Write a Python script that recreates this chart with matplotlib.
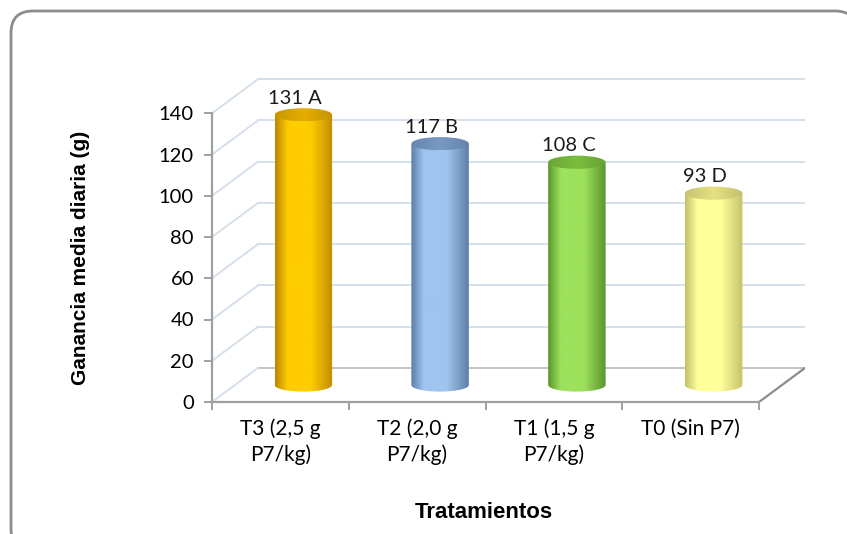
import numpy as np
import matplotlib
matplotlib.use("Agg")
import matplotlib.pyplot as plt
from matplotlib.patches import Ellipse, FancyBboxPatch, PathPatch
from matplotlib.path import Path
from matplotlib.colors import LinearSegmentedColormap, to_rgb

# Datos: ganancia media diaria por tratamiento
tratamientos = ["T3 (2,5 g\nP7/kg)", "T2 (2,0 g\nP7/kg)", "T1 (1,5 g\nP7/kg)", "T0 (Sin P7)"]
ganancia = [131, 117, 108, 93]
letras = ["A", "B", "C", "D"]
y_ticks = [0, 20, 40, 60, 80, 100, 120, 140]

# colores del cilindro: borde oscuro, brillo central, borde oscuro, tapa
colores = [
    ("#B98600", "#FFCC00", "#C08C00", "#D9A400"),
    ("#5A7BA3", "#9FC5F0", "#5F7EA6", "#7091BA"),
    ("#5A962A", "#9DE25C", "#5A952C", "#74B43A"),
    ("#C4C066", "#FFFF9C", "#C6C26A", "#D8D47A"),
]

TICK_FONT = "Lato"
GRID_COLOR = "#D5DFEC"
AXIS_COLOR = "#A0A0A0"

DX = 0.336    # desplazamiento de profundidad (unidades de categoria)
DY = 16.5     # desplazamiento de profundidad (unidades de eje y)
W = 0.42      # ancho del cilindro
EH = 6.4      # alto de la elipse

fig = plt.figure(figsize=(8.47, 5.34), dpi=100)

# marco redondeado del grafico
bg = fig.add_axes([0, 0, 1, 1])
bg.set_xlim(0, 847)
bg.set_ylim(534, 0)
bg.axis("off")
bg.add_patch(FancyBboxPatch((11, 11), 846, 540, boxstyle="round,pad=0,rounding_size=22",
                            facecolor="white", edgecolor="#8C8C8C", linewidth=2))

ax = fig.add_axes([212 / 847, 132 / 534, 593 / 847, 330 / 534])
ax.patch.set_alpha(0)
n = len(ganancia)
x_left = -0.5
x_right = n - 0.5

# pared trasera y pared lateral
for t in y_ticks:
    c = "#C4C4C4" if t == 0 else GRID_COLOR
    ax.plot([x_left + DX, x_right + DX], [t + DY, t + DY], color=c, lw=1.4, zorder=1)
    ax.plot([x_left, x_left + DX], [t, t + DY], color=GRID_COLOR, lw=1.4, zorder=1)

# borde derecho del piso
ax.plot([x_right, x_right + DX], [0, DY], color="#8C8C8C", lw=1.6, zorder=1)

# cilindros
for i, (v, let) in enumerate(zip(ganancia, letras)):
    edge_l, mid, edge_r, top_c = colores[i]
    cx = i + DX / 2
    base = DY / 2
    top = v + DY / 2
    x0, x1 = cx - W / 2, cx + W / 2

    th = np.linspace(0, np.pi, 40)
    bottom_x = cx + (W / 2) * np.cos(th)
    bottom_y = base - (EH / 2) * np.sin(th)
    verts = [(x0, top), (x1, top)] + list(zip(bottom_x, bottom_y)) + [(x0, top)]
    codes = [Path.MOVETO] + [Path.LINETO] * (len(verts) - 2) + [Path.CLOSEPOLY]
    body = PathPatch(Path(verts, codes), facecolor="none", edgecolor="none")
    ax.add_patch(body)

    cmap = LinearSegmentedColormap.from_list(
        f"cil{i}", [(0, edge_l), (0.22, mid), (0.45, mid), (0.62, mid), (1, edge_r)])
    grad = np.linspace(0, 1, 256).reshape(1, -1)
    im = ax.imshow(grad, extent=[x0, x1, base - EH / 2, top], aspect="auto",
                   cmap=cmap, zorder=3, interpolation="bicubic")
    im.set_clip_path(body)

    # tapa superior
    tc = np.array(to_rgb(top_c))
    cmap_top = LinearSegmentedColormap.from_list(
        f"tapa{i}", [(0, tc * 0.92), (0.5, np.clip(tc * 1.06, 0, 1)), (1, tc * 0.9)])
    tapa = Ellipse((cx, top), W, EH, facecolor="none", edgecolor="none")
    ax.add_patch(tapa)
    im2 = ax.imshow(grad, extent=[x0, x1, top - EH / 2, top + EH / 2], aspect="auto",
                    cmap=cmap_top, zorder=4, interpolation="bicubic")
    im2.set_clip_path(tapa)

    ax.text(cx - 0.06, top + EH / 2 + 0.6, f"{v} {let}", ha="center", va="bottom",
            fontsize=14.5, family=TICK_FONT, color="#1A1A1A", zorder=5)

# ejes
ax.set_xlim(x_left, x_right + DX)
ax.set_ylim(0, 160)
for s in ["top", "right"]:
    ax.spines[s].set_visible(False)
ax.spines["left"].set_bounds(0, 140)
ax.spines["bottom"].set_bounds(x_left, x_right)
for s in ["left", "bottom"]:
    ax.spines[s].set_color(AXIS_COLOR)
    ax.spines[s].set_linewidth(1.6)

ax.set_yticks(y_ticks)
ax.set_yticklabels([str(t) for t in y_ticks], fontsize=14.5, family=TICK_FONT)
ax.tick_params(axis="y", direction="out", length=6, width=1.4, color=AXIS_COLOR, pad=7)

ax.set_xticks(np.arange(x_left, x_right + 0.01, 1.0))
ax.set_xticklabels([])
ax.tick_params(axis="x", which="major", direction="out", length=6, width=1.4, color=AXIS_COLOR)
ax.set_xticks(np.arange(n), minor=True)
ax.set_xticklabels(tratamientos, minor=True, fontsize=15, family=TICK_FONT,
                   linespacing=1.3)
ax.tick_params(axis="x", which="minor", length=0, pad=12)

ax.set_ylabel("Ganancia media diaria (g)", fontsize=15, fontweight="bold",
              family="Liberation Sans", va="center")
ax.yaxis.set_label_coords(-0.222, 0.436)
ax.set_xlabel("Tratamientos", fontsize=16, fontweight="bold", family="Liberation Sans",
              va="center")
ax.xaxis.set_label_coords(0.459, -0.336)

fig.savefig("out.png", dpi=100)
